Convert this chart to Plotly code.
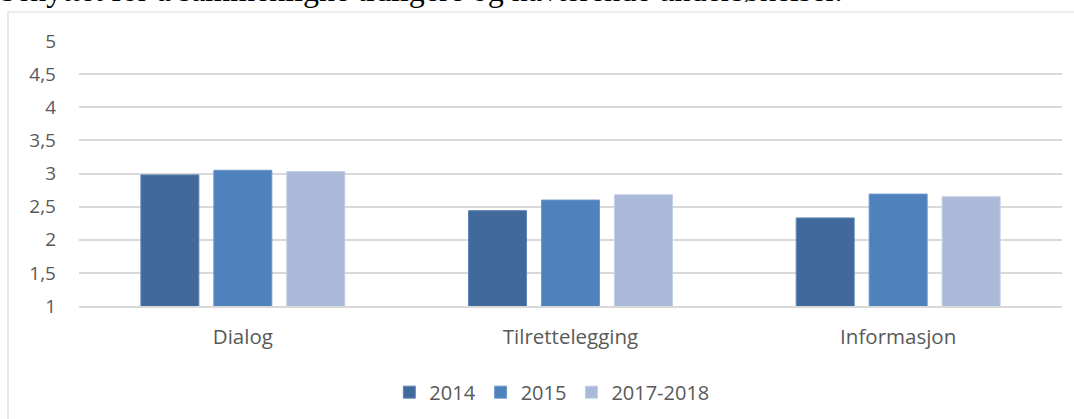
import plotly.graph_objects as go

categories = ["Dialog", "Tilrettelegging", "Informasjon"]
series_names = ["2014", "2015", "2017-2018"]
values_2014 = [2.98, 2.44, 2.33]
values_2015 = [3.05, 2.60, 2.69]
values_2017_2018 = [3.03, 2.68, 2.65]
y_ticks = [1, 1.5, 2, 2.5, 3, 3.5, 4, 4.5, 5]
top_text = "benyttet for å sammenligne tidligere og nåværende undersøkelser."

colors = ["#41699B", "#4F81BD", "#AAB9D7"]
edge_colors = ["#5F86B5", "#6E98CC", "#C3CFE6"]

W, H = 1074, 419
ml, mr, mt, mb = 79, 12, 41, 113
pw, ph = W - ml - mr, H - mt - mb

def px_x(x):
    return (x - ml) / pw

def px_y(y):
    return 1 + (mt - y) / ph

fig = go.Figure()
for name, vals, c, ec in zip(series_names, [values_2014, values_2015, values_2017_2018], colors, edge_colors):
    fig.add_trace(go.Bar(x=categories, y=vals, name=name, marker=dict(color=c, line=dict(color=ec, width=1))))

font_fam = "Open Sans, Liberation Sans, sans-serif"
fig.update_layout(
    width=W, height=H,
    margin=dict(l=ml, r=mr, t=mt, b=mb, autoexpand=False),
    paper_bgcolor="white", plot_bgcolor="white",
    separators=", ",
    barmode="group", bargap=0.332, bargroupgap=0.205,
    font=dict(family=font_fam, size=20, color="#595959"),
    showlegend=True,
    legend=dict(orientation="h", x=0.481, xanchor="center", y=-0.325, yanchor="middle",
                font=dict(family=font_fam, size=20, color="#595959"), itemwidth=30,
                traceorder="normal"),
    xaxis=dict(showgrid=False, showline=True, linecolor="#D9D9D9", linewidth=1.5,
               ticks="", ticklabelstandoff=12, tickfont=dict(size=20.5), automargin=False),
    yaxis=dict(range=[1, 5.002], tickvals=y_ticks, showgrid=True, gridcolor="#D9D9D9",
               gridwidth=1.5, zeroline=False, ticks="", ticklabelstandoff=22,
               tickfont=dict(size=19), automargin=False),
    shapes=[dict(type="rect", xref="paper", yref="paper",
                 x0=px_x(8), x1=px_x(1090), y0=px_y(440), y1=px_y(12),
                 line=dict(color="#D9D9D9", width=1.2), fillcolor="rgba(0,0,0,0)", layer="below")],
    annotations=[dict(text=top_text, xref="paper", yref="paper", x=px_x(-2), y=px_y(10),
                      xanchor="left", yanchor="bottom", showarrow=False,
                      font=dict(family="Liberation Serif, Times New Roman, serif", size=32, color="black"))],
)

fig.write_html("out.html", config={"displayModeBar": False},
               post_script="document.body.style.margin='0';document.body.style.overflow='hidden';")
